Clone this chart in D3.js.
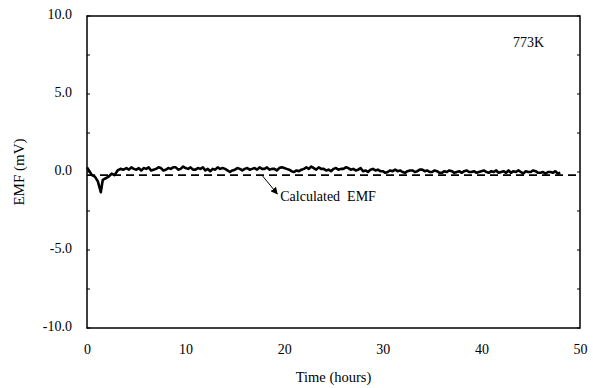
<!DOCTYPE html>
<html>
<head>
<meta charset="utf-8">
<script src="https://cdn.jsdelivr.net/npm/d3@7"></script>
<style>
  html, body { margin: 0; padding: 0; background: #fff; }
  svg text { font-family: "Liberation Serif", "Times New Roman", serif; fill: #000; }
</style>
</head>
<body>
<svg id="chart" width="593" height="388"></svg>
<script>
// Measured EMF at 773 K: start-up transient, then readings every quarter hour
const startHours = [0, 0.2, 0.5, 0.8, 1.1, 1.4, 1.6, 1.9, 2.2, 2.5, 2.8, 3.1, 3.4, 3.7];
const startEmf = [0.3, 0.1, -0.2, -0.3, -0.6, -1.3, -0.5, -0.4, -0.3, -0.1, -0.2, 0.1, 0.2, 0.15];
const steadyHours = d3.range(4, 48.001, 0.25);
const steadyEmf = [
  0.25, 0.15, 0.3, 0.2,    0.15, 0.25, 0.1, 0.25,   0.2, 0.3, 0.1, 0.15,     0.2, 0.3, 0.25, 0.1,
  0.15, 0.25, 0.2, 0.3,    0.3, 0.15, 0.2, 0.35,    0.25, 0.2, 0.3, 0.15,    0.15, 0.25, 0.2, 0.3,
  0.1, 0.2, 0.05, 0.2,     0.15, 0.3, 0.2, 0.25,    0.2, 0.1, 0.0, 0.1,      0.15, 0.25, 0.2, 0.1,
  0.2, 0.25, 0.15, 0.2,    0.25, 0.15, 0.3, 0.2,    0.2, 0.3, 0.15, 0.2,     0.2, 0.1, 0.25, 0.3,
  0.25, 0.2, 0.15, 0.05,   0.0, 0.1, 0.05, 0.15,    0.2, 0.3, 0.2, 0.35,     0.25, 0.15, 0.3, 0.2,
  0.2, 0.1, 0.15, 0.05,    0.2, 0.25, 0.15, 0.2,    0.2, 0.3, 0.25, 0.15,    0.2, 0.1, 0.15, 0.25,
  0.05, 0.1, 0.0, 0.15,    0.2, 0.1, 0.15, 0.05,    0.05, -0.05, 0.0, 0.1,   0.05, 0.15, 0.05, 0.1,
  0.0, -0.05, 0.05, 0.1,   0.1, 0.0, 0.05, 0.15,    0.15, 0.05, 0.1, 0.0,    0.0, 0.1, 0.05, -0.05,
  -0.05, 0.05, 0.0, 0.1,   0.05, -0.05, 0.0, 0.05,  -0.05, 0.05, 0.1, 0.0,   0.0, 0.05, -0.05, 0.0,
  0.05, 0.1, 0.0, -0.05,   0.05, 0.0, 0.1, -0.05,   0.0, 0.05, -0.05, 0.1,   -0.05, 0.05, 0.0, 0.1,
  0.0, -0.1, 0.05, 0.0,    0.0, 0.1, 0.05, -0.05,   -0.05, 0.0, -0.1, 0.0,   0.0, -0.05, 0.05, -0.1,
  -0.05
];

// Calculated EMF (constant reference level)
const calcHours = [0, 50];
const calcEmf = [-0.2, -0.2];

const xTicks = [0, 10, 20, 30, 40, 50];
const yTicks = [-10, -5, 0, 5, 10];
const yMinorTicks = [-7.5, -2.5, 2.5, 7.5];

// annotation placement in data units
const arrowFrom = [17.8, -0.25];
const arrowTo = [19.3, -1.4];
const noteAt = [19.6, -1.85];

const svg = d3.select("#chart");
const margin = { left: 87, right: 13, top: 16, bottom: 60 };
const W = 593, H = 388;

const x = d3.scaleLinear().domain([0, 50]).range([margin.left, W - margin.right]);
const y = d3.scaleLinear().domain([-10, 10]).range([H - margin.bottom, margin.top]);

// frame
svg.append("rect")
  .attr("x", x(0)).attr("y", y(10))
  .attr("width", x(50) - x(0)).attr("height", y(-10) - y(10))
  .attr("fill", "none").attr("stroke", "#000").attr("stroke-width", 1.5);

// y axis: labels (plain hyphen for negatives) and inward ticks
const fmt = d => d3.format(".1f")(d).replace("\u2212", "-");
const yAxis = d3.axisLeft(y).tickValues(yTicks).tickSize(0).tickPadding(15).tickFormat(fmt);
const gy = svg.append("g").attr("transform", `translate(${x(0)},0)`).call(yAxis);
gy.select(".domain").remove();
gy.selectAll("text").style("font-size", "14px").attr("dy", "0.15em");

const allY = yTicks.concat(yMinorTicks);
svg.append("g").selectAll("line").data(allY).join("line")
  .attr("x1", x(0)).attr("x2", x(0) + 3)
  .attr("y1", d => y(d)).attr("y2", d => y(d))
  .attr("stroke", "#000").attr("stroke-width", 1);
svg.append("g").selectAll("line").data(allY).join("line")
  .attr("x1", x(50)).attr("x2", x(50) - 3)
  .attr("y1", d => y(d)).attr("y2", d => y(d))
  .attr("stroke", "#000").attr("stroke-width", 1);

// x axis labels
const xAxis = d3.axisBottom(x).tickValues(xTicks).tickSize(0).tickPadding(16)
  .tickFormat(d3.format("d"));
const gx = svg.append("g").attr("transform", `translate(0,${y(-10)})`).call(xAxis);
gx.select(".domain").remove();
gx.selectAll("text").style("font-size", "14px");

// axis titles
svg.append("text")
  .attr("transform", `translate(24,${y(0)}) rotate(-90)`)
  .attr("text-anchor", "middle")
  .style("font-size", "15px")
  .text("EMF (mV)");
svg.append("text")
  .attr("x", (x(0) + x(50)) / 2).attr("y", 382)
  .attr("text-anchor", "middle")
  .style("font-size", "14.5px")
  .text("Time (hours)");

// temperature tag
svg.append("text")
  .attr("x", x(43.2)).attr("y", y(8.0))
  .style("font-size", "14px")
  .text("773K");

// calculated EMF, dashed
const line = d3.line().x(d => x(d[0])).y(d => y(d[1]));
svg.append("path")
  .datum(d3.zip(calcHours, calcEmf))
  .attr("d", line)
  .attr("fill", "none").attr("stroke", "#000")
  .attr("stroke-width", 1.8).attr("stroke-dasharray", "8,5");

// measured EMF
const measured = d3.zip(startHours.concat(steadyHours), startEmf.concat(steadyEmf));
svg.append("path")
  .datum(measured)
  .attr("d", line)
  .attr("fill", "none").attr("stroke", "#000")
  .attr("stroke-width", 2.6).attr("stroke-linejoin", "round");

// annotation arrow + label
svg.append("defs").append("marker")
  .attr("id", "ah").attr("viewBox", "0 0 10 10")
  .attr("refX", 9).attr("refY", 5)
  .attr("markerWidth", 7).attr("markerHeight", 7)
  .attr("orient", "auto")
  .append("path").attr("d", "M0,0 L10,5 L0,10 Z").attr("fill", "#000");
svg.append("line")
  .attr("x1", x(arrowFrom[0])).attr("y1", y(arrowFrom[1]))
  .attr("x2", x(arrowTo[0])).attr("y2", y(arrowTo[1]))
  .attr("stroke", "#000").attr("stroke-width", 1)
  .attr("marker-end", "url(#ah)");
svg.append("text")
  .attr("x", x(noteAt[0])).attr("y", y(noteAt[1]))
  .style("font-size", "14px")
  .style("white-space", "pre")
  .text("Calculated  EMF");
</script>
</body>
</html>
